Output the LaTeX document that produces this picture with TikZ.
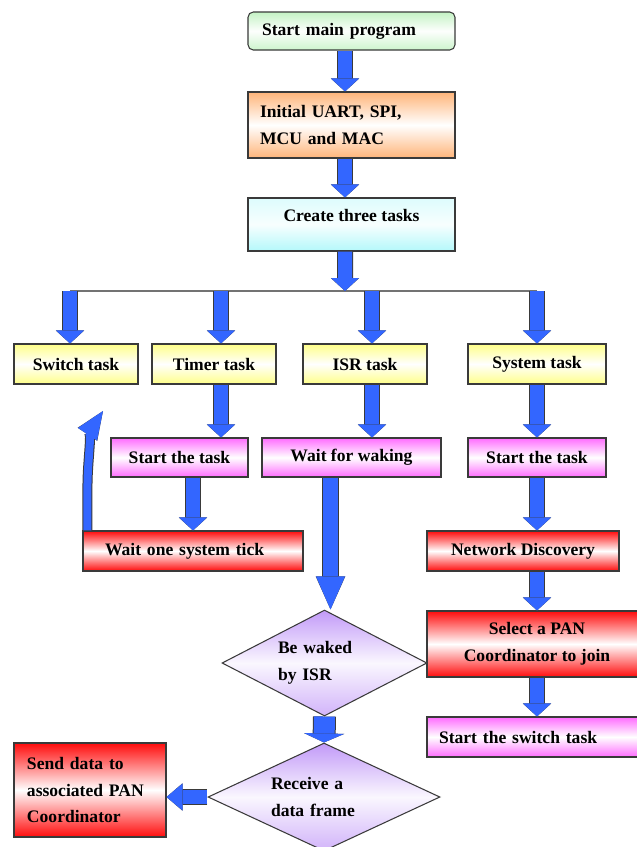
\documentclass[tikz,border=0pt]{standalone}
\usepackage{fontspec}
\setmainfont{Liberation Serif}
\usetikzlibrary{positioning,arrows.meta,shapes.geometric,calc}
\definecolor{flazul}{HTML}{3366FF}
\definecolor{flverde}{HTML}{C4F2C4}
\definecolor{fllaranja}{HTML}{FFB57A}
\definecolor{flciano}{HTML}{B4F8FA}
\definecolor{flamarelo}{HTML}{FFFF88}
\definecolor{flrosa}{HTML}{FF6CFF}
\definecolor{flvermelho}{HTML}{FF0C0C}
\definecolor{flroxo}{HTML}{C29AF8}
\definecolor{fllinha}{HTML}{3A3A3A}
\tikzset{
  flbloco/.style={draw=fllinha, line width=0.6pt, inner xsep=0pt, inner ysep=0pt, align=center,
                  font=\bfseries\fontsize{10}{15.3}\selectfont, minimum height=0.8cm},
  flinicio/.style={flbloco, rounded corners=3pt, top color=flverde, bottom color=flverde!85, middle color=white!96!flverde},
  fllaranjabloco/.style={flbloco, top color=fllaranja, bottom color=fllaranja, middle color=white},
  flcianobloco/.style={flbloco, top color=flciano!45, bottom color=flciano, middle color=white!90!flciano},
  fltarefa/.style={flbloco, top color=flamarelo, bottom color=flamarelo, middle color=white},
  flrosabloco/.style={flbloco, top color=flrosa, bottom color=flrosa, middle color=white},
  flvermelhobloco/.style={flbloco, top color=flvermelho, bottom color=flvermelho, middle color=white},
  fldecisao/.style={flbloco, diamond, aspect=2, align=left, top color=flroxo, bottom color=flroxo!75, middle color=white!92!flroxo},
  flseta/.style n args={3}{line width=#1, draw=flazul, -{Triangle[width=#2, length=#3, line width=0pt]},
                  preaction={draw=fllinha, line width=#1+0.04cm, -{Triangle[width=#2, length=#3, line width=0.04cm]}}},
  flsetanormal/.style={flseta={0.28cm}{0.56cm}{0.26cm}},
  flbarra/.style={draw=black!55, line width=1pt},
}
\begin{document}
\begin{tikzpicture}
        \useasboundingbox (0,0) rectangle (12.74,-16.94);
        \fill[white] (0,0) rectangle (12.74,-16.94);
        \clip (0,0) rectangle (12.74,-16.94);
        % ---------------- programa principal ----------------
        \node[flinicio, minimum width=4.14cm, minimum height=0.76cm, inner xsep=0.28cm, text width=3.58cm, align=left] (start) at (7.03,-0.62) {Start main program};
        \node[fllaranjabloco, minimum width=4.14cm, minimum height=1.32cm, inner xsep=0.24cm, text width=3.66cm, align=left] (init) at (7.03,-2.50) {Initial UART, SPI,\\ MCU and MAC};
        \node[flcianobloco, minimum width=4.14cm, minimum height=1.06cm, text depth=0.35cm] (create) at (7.03,-4.49) {Create three tasks};
        % ---------------- tarefas ----------------
        \node[fltarefa, minimum width=2.48cm] (switch) at (1.52,-7.28) {Switch task};
        \node[fltarefa, minimum width=2.48cm] (timer) at (4.28,-7.28) {Timer task};
        \node[fltarefa, minimum width=2.48cm] (isr) at (7.30,-7.28) {ISR task};
        \node[fltarefa, minimum width=2.76cm] (system) at (10.74,-7.28) {System task};
        \node[flrosabloco, minimum width=2.74cm, minimum height=0.78cm] (startL) at (3.59,-9.15) {Start the task};
        \node[flrosabloco, minimum width=3.58cm, minimum height=0.78cm] (waking) at (7.03,-9.15) {Wait for waking};
        \node[flrosabloco, minimum width=2.76cm, minimum height=0.78cm] (startR) at (10.74,-9.15) {Start the task};
        \node[flvermelhobloco, minimum width=4.40cm, inner xsep=0.44cm, text width=3.52cm, align=left] (tick) at (3.86,-11.02) {Wait one system tick};
        \node[flvermelhobloco, minimum width=3.84cm] (network) at (10.46,-11.02) {Network Discovery};
        \node[flvermelhobloco, minimum width=4.40cm, minimum height=1.32cm] (select) at (10.74,-12.88) {Select a PAN\\ Coordinator to join};
        \node[flrosabloco, minimum width=4.40cm, inner xsep=0.24cm, text width=3.92cm, align=left] (switchtask) at (10.74,-14.74) {Start the switch task};
        % ---------------- decisoes ----------------
        \node[fldecisao, minimum width=4.10cm, minimum height=2.12cm, text width=1.86cm] (waked) at (6.49,-13.26) {Be waked\\ by ISR};
        \node[fldecisao, minimum width=4.64cm, minimum height=2.16cm, text width=2.12cm] (receive) at (6.48,-15.94) {Receive a\\ data frame};
        \node[flvermelhobloco, minimum width=3.04cm, minimum height=1.88cm, inner xsep=0.26cm, text width=2.52cm, align=left] (send) at (1.80,-15.80) {Send data to\\ associated PAN\\ Coordinator};
        % ---------------- barramento ----------------
        \coordinate (busc) at (6.90,-5.82);
        \coordinate (bus1) at (1.40,-5.82);
        \coordinate (bus2) at (4.42,-5.82);
        \coordinate (bus3) at (7.44,-5.82);
        \coordinate (bus4) at (10.74,-5.82);
        \coordinate (laco) at (2.06,-8.22);
        \draw[flbarra] (bus1) -- (bus4);
        % ---------------- setas ----------------
        \draw[flsetanormal] ([xshift=-0.13cm]start.south) -- ([xshift=-0.13cm]init.north);
        \draw[flsetanormal] ([xshift=-0.13cm]init.south) -- ([xshift=-0.13cm]create.north);
        \draw[flsetanormal] ([xshift=-0.13cm]create.south) -- (busc);
        \foreach \b/\t in {bus1/switch, bus2/timer, bus3/isr, bus4/system} {\draw[flsetanormal] (\b) -- (\b |- \t.north);}
        \draw[flsetanormal] (bus2 |- timer.south) -- (bus2 |- startL.north);
        \draw[flsetanormal] (bus3 |- isr.south) -- (bus3 |- waking.north);
        \draw[flsetanormal] (system) -- (startR);
        \draw[flsetanormal] (tick.north |- startL.south) -- (tick.north);
        \draw[flsetanormal] (startR.south) -- (startR.south |- network.north);
        \draw[flsetanormal] (network.south -| select.north) -- (select.north);
        \draw[flsetanormal] (select) -- (switchtask);
        \draw[flseta={0.16cm}{0.46cm}{0.56cm}] ([xshift=0.1cm]tick.north west) -- ++(0,0.9) .. controls +(0,0.5) and +(-0.2,-0.3) .. (laco);
        \draw[flseta={0.30cm}{0.58cm}{0.66cm}] ([xshift=-0.42cm]waking.south) -- ([xshift=-0.42cm]waking.south |- waked.north);
        \draw[flseta={0.42cm}{0.80cm}{0.18cm}] (waked.south) -- (receive.north);
        \draw[flseta={0.28cm}{0.54cm}{0.32cm}] (receive.west) -- (receive.west -| send.east);
    \end{tikzpicture}
\end{document}
